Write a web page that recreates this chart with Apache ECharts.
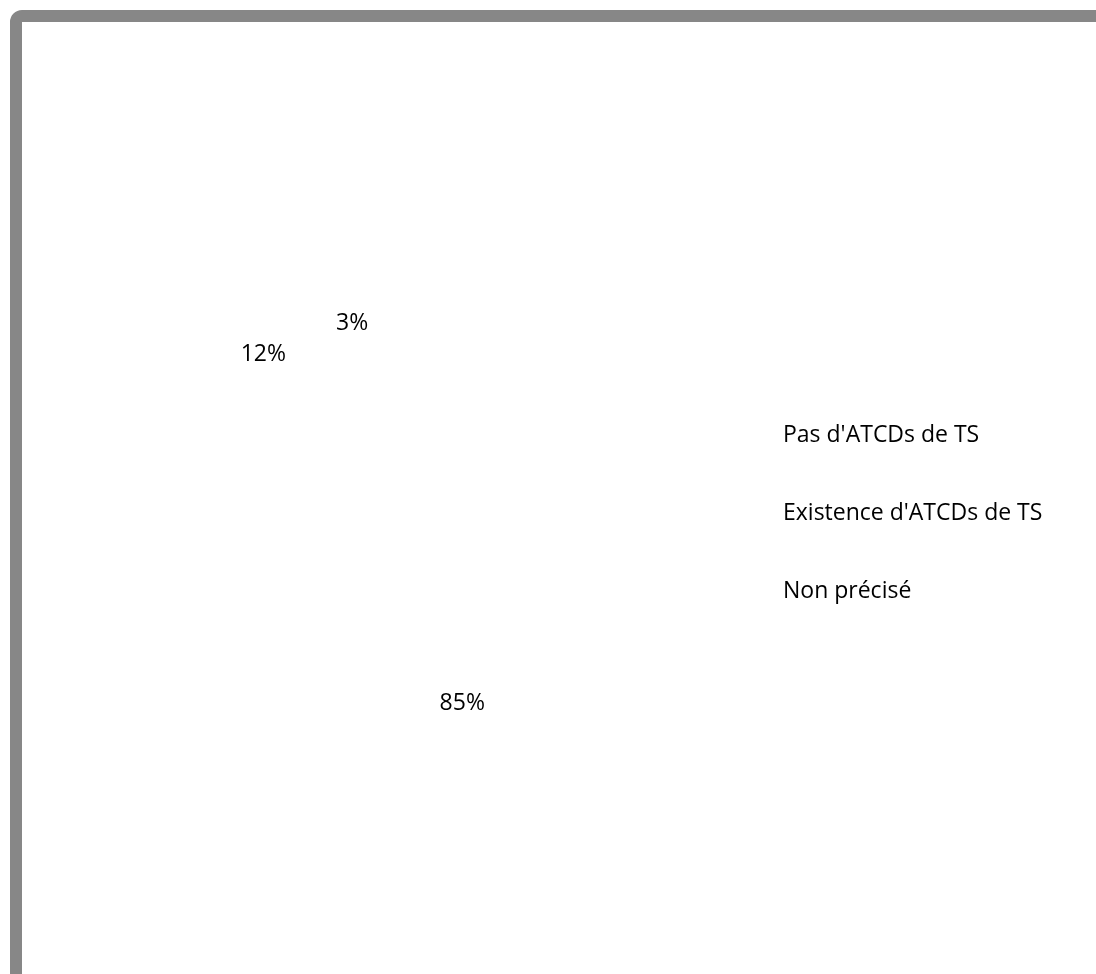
<!DOCTYPE html>
<html>
<head>
<meta charset="utf-8">
<script src="https://cdn.jsdelivr.net/npm/echarts@6/dist/echarts.min.js"></script>
<style>
  html, body { margin: 0; padding: 0; background: #ffffff; }
  #chart { width: 1096px; height: 974px; }
</style>
</head>
<body>
<div id="chart"></div>
<script>
// Antécédents de tentative de suicide (TS)
const categories = ["Pas d'ATCDs de TS", "Existence d'ATCDs de TS", "Non précisé"];
const percentages = [85, 12, 3];

const FONT = '"Open Sans", "Noto Sans", sans-serif';

const chart = echarts.init(document.getElementById('chart'), null, { renderer: 'canvas' });

chart.setOption({
  backgroundColor: '#ffffff',
  animation: false,
  graphic: [
    {
      // outer frame of the chart area
      type: 'rect',
      silent: true,
      shape: { x: 16, y: 16, width: 1300, height: 1300, r: 6 },
      style: { fill: 'none', stroke: '#878787', lineWidth: 12 }
    }
  ],
  legend: {
    orient: 'vertical',
    left: 759,
    top: 417,
    icon: 'rect',
    itemWidth: 14,
    itemHeight: 14,
    itemGap: 52,
    selectedMode: false,
    textStyle: { fontFamily: FONT, fontSize: 23, lineHeight: 26, color: '#000000' },
    data: categories
  },
  series: [
    {
      type: 'pie',
      center: [371, 524],
      radius: [96, 300],
      startAngle: 90,
      clockwise: true,
      silent: true,
      itemStyle: { color: 'rgba(255,255,255,0)', borderWidth: 0 },
      label: {
        show: true,
        position: 'inside',
        formatter: '{c}%',
        fontFamily: FONT,
        fontSize: 23,
        color: '#000000'
      },
      labelLine: { show: false },
      data: categories.map((name, i) => ({ name: name, value: percentages[i] }))
    }
  ]
});
</script>
</body>
</html>
